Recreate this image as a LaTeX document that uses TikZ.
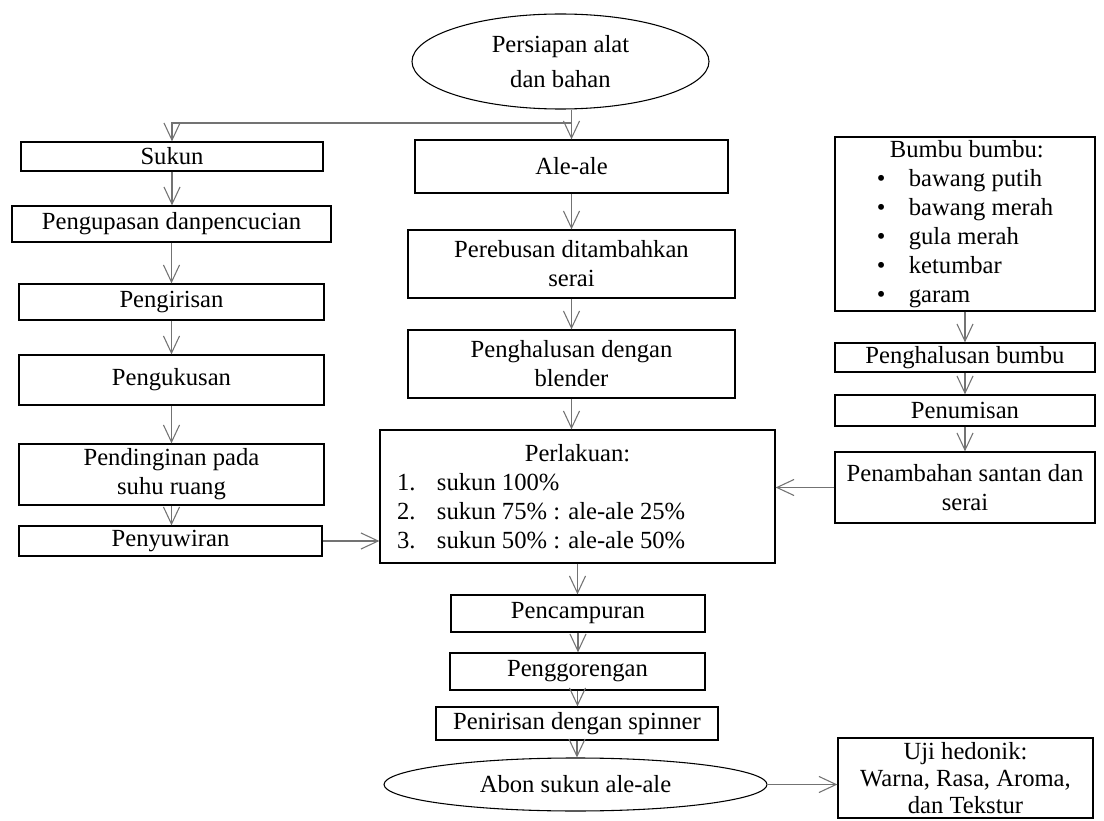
\documentclass[tikz,border=0pt]{standalone}
\usepackage{fontspec}
\setmainfont{Liberation Serif}
\usetikzlibrary{shapes.geometric,arrows.meta}
\newdimen\pxu \pxu=0.467pt

\begin{document}
\begin{tikzpicture}[x=0.467pt, y=-0.467pt,
  every node/.style = {font=\fontsize{11.5}{13.5}\selectfont, align=center},
  boxsize/.style 2 args = {minimum width=#1*\pxu, minimum height=#2*\pxu},
  box/.style = {shape=rectangle, draw, line width=0.6pt, inner sep=0pt},
  oval/.style = {shape=ellipse, draw, line width=0.5pt, inner sep=0pt},
  arr/.style = {draw=black!55, line width=0.5pt,
    -{Straight Barb[length=8pt,width=7.5pt]}}]
  \useasboundingbox (0,0) rectangle (1104,821);
  \clip (0,0) rectangle (1104,821);
  \node[oval, boxsize={297}{95}] (prep) at (560.5,61.5) {Persiapan alat\\[3pt]dan bahan};
  \coordinate (split) at (571.5,123);
  % sukun
  \node[box, boxsize={302}{29}] (sukun) at (172,156.5) {Sukun};
  \node[box, boxsize={319}{36}] (kupas) at (171.5,224) {Pengupasan danpencucian};
  \node[box, boxsize={305}{36}] (iris) at (171.5,302) {Pengirisan};
  \node[box, boxsize={305}{50}] (kukus) at (171.5,380) {Pengukusan};
  \node[box, boxsize={305}{61}] (dingin) at (171.5,474.5) {Pendinginan pada\\suhu ruang};
  \node[box, boxsize={303}{30}] (suwir) at (170.5,541) {Penyuwiran};
  % ale-ale
  \node[box, boxsize={313}{53}] (ale) at (571.5,166.5) {Ale-ale};
  \node[box, boxsize={327}{68}] (rebus) at (571.5,264) {Perebusan ditambahkan\\serai};
  \node[box, boxsize={327}{68}] (halus) at (571.5,364) {Penghalusan dengan\\blender};
  \node[box, boxsize={395}{133}] (lakuan) at (577.5,496.5) {Perlakuan:\\
    \makebox[361\pxu][l]{\makebox[40\pxu][l]{1.}sukun 100\%}\\
    \makebox[361\pxu][l]{\makebox[40\pxu][l]{2.}sukun 75\% : ale-ale 25\%}\\
    \makebox[361\pxu][l]{\makebox[40\pxu][l]{3.}sukun 50\% : ale-ale 50\%}};
  \node[box, boxsize={254}{37}] (campur) at (578,613.5) {Pencampuran};
  \node[box, boxsize={255}{37}] (goreng) at (577.5,671.5) {Penggorengan};
  \node[box, boxsize={282}{33}] (tiris) at (577,723.5) {Penirisan dengan spinner};
  \node[oval, boxsize={383}{53}] (abon) at (575.5,784.5) {Abon sukun ale-ale};
  \node[box, boxsize={255}{80}, font=\fontsize{11.5}{12.5}\selectfont] (uji) at (965.5,778) {Uji hedonik:\\Warna, Rasa, Aroma,\\dan Tekstur};
  % bumbu
  \node[box, boxsize={260}{174}, align=left] (bumbu) at (965,224) {\hspace*{13\pxu}Bumbu bumbu:\\
    \makebox[32\pxu][l]{\textbullet}bawang putih\\
    \makebox[32\pxu][l]{\textbullet}bawang merah\\
    \makebox[32\pxu][l]{\textbullet}gula merah\\
    \makebox[32\pxu][l]{\textbullet}ketumbar\\
    \makebox[32\pxu][l]{\textbullet}garam};
  \node[box, boxsize={260}{29}] (bumbuhalus) at (965,357.5) {Penghalusan bumbu};
  \node[box, boxsize={260}{31}] (tumis) at (965,410.5) {Penumisan};
  \node[box, boxsize={260}{71}] (santan) at (965,487.5) {Penambahan santan dan\\serai};

  \draw[arr] (prep.south -| split) -- (ale.north);
  \draw[arr] (split) -| (sukun.north);
  \draw[arr] (sukun.south) -- (sukun.south |- kupas.north);
  \draw[arr] (kupas.south) -- (kupas.south |- iris.north);
  \draw[arr] (iris.south) -- (iris.south |- kukus.north);
  \draw[arr] (kukus.south) -- (kukus.south |- dingin.north);
  \draw[arr] (dingin.south) -- (dingin.south |- suwir.north);
  \draw[arr] (ale.south) -- (ale.south |- rebus.north);
  \draw[arr] (rebus.south) -- (rebus.south |- halus.north);
  \draw[arr] (halus.south) -- (halus.south |- lakuan.north);
  \draw[arr] (lakuan.south) -- (lakuan.south |- campur.north);
  \draw[arr] (campur.south) -- (campur.south |- goreng.north);
  \draw[arr] (goreng.south) -- (goreng.south |- tiris.north);
  \draw[arr] (tiris.south) -- (tiris.south |- abon.north);
  \draw[arr] (bumbu.south) -- (bumbu.south |- bumbuhalus.north);
  \draw[arr] (bumbuhalus.south) -- (bumbuhalus.south |- tumis.north);
  \draw[arr] (tumis.south) -- (tumis.south |- santan.north);
  \draw[arr] (suwir.east) -- (suwir.east -| lakuan.west);
  \draw[arr] (santan.west) -- (santan.west -| lakuan.east);
  \draw[arr] (abon.east) -- (abon.east -| uji.west);
\end{tikzpicture}
\end{document}
